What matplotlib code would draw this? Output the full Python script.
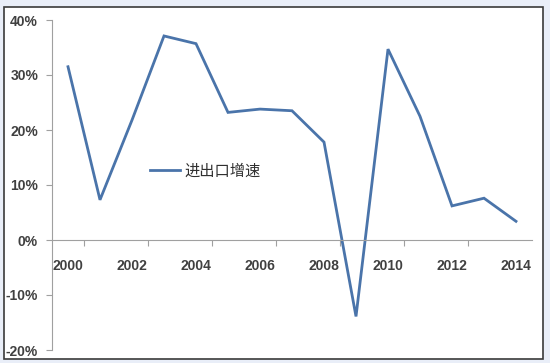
import matplotlib
matplotlib.use("Agg")
import matplotlib.pyplot as plt
from matplotlib.patches import Rectangle
from matplotlib.lines import Line2D

years = ["2000", "2001", "2002", "2003", "2004", "2005", "2006", "2007",
         "2008", "2009", "2010", "2011", "2012", "2013", "2014"]
growth = [31.5, 7.3, 21.8, 37.1, 35.7, 23.2, 23.8, 23.5, 17.8, -13.9,
          34.7, 22.5, 6.2, 7.6, 3.4]
yticks = [-20, -10, 0, 10, 20, 30, 40]
series_name = "进出口增速"

plt.rcParams['font.family'] = ['Liberation Sans', 'DejaVu Sans']

W, H = 550, 363
fig = plt.figure(figsize=(W / 100, H / 100), dpi=100, facecolor="#e9eef8")

# white frame
fig.patches.append(Rectangle((4 / W, 1 - 359 / H), (543 - 4) / W, (359 - 7) / H,
                             transform=fig.transFigure, facecolor="white",
                             edgecolor="#3a3a3a", linewidth=1.2, zorder=-5))

ax = fig.add_axes([52 / W, (H - 350) / H, 480 / W, 330 / H])
ax.set_zorder(5)
ax.set_facecolor("none")

x = list(range(len(years)))
ax.plot(x, growth, color="#4a74aa", linewidth=2.0, solid_joinstyle="miter")

ax.set_xlim(-0.5, len(years) - 0.5)
ax.set_ylim(-20, 40)

for s in ["top", "right"]:
    ax.spines[s].set_visible(False)
ax.spines["left"].set_color("#a0a0a0")
ax.spines["bottom"].set_color("#a0a0a0")
ax.spines["bottom"].set_position(("data", 0))

ax.set_yticks(yticks)
ax.set_yticklabels([f"{v}%" for v in yticks], fontsize=10, fontweight="bold",
                   color="#404040")
ax.tick_params(axis="y", direction="out", length=4, color="#a0a0a0", pad=6)

# major ticks at category boundaries (marks only), labels at category centres
ax.set_xticks([i - 0.5 for i in range(1, len(years), 2)])
ax.set_xticklabels([])
ax.tick_params(axis="x", which="major", direction="out", length=4, color="#a0a0a0")
ax.set_xticks(x[::2], minor=True)
ax.set_xticklabels(years[::2], minor=True, fontsize=10, fontweight="bold",
                   color="#404040")
ax.tick_params(axis="x", which="minor", length=0, pad=14)

leg = ax.legend(handles=[Line2D([0], [0], color="#4a74aa", linewidth=2.0)],
                labels=[series_name], loc="center left",
                bbox_to_anchor=((136 - 52) / 480, (350 - 171) / 330),
                frameon=False, handlelength=2.0, handletextpad=0.3,
                prop={"family": ["Noto Sans CJK SC", "DejaVu Sans"], "size": 11})
for t in leg.get_texts():
    t.set_color("#303030")

fig.savefig("out.png", dpi=100, facecolor=fig.get_facecolor())
